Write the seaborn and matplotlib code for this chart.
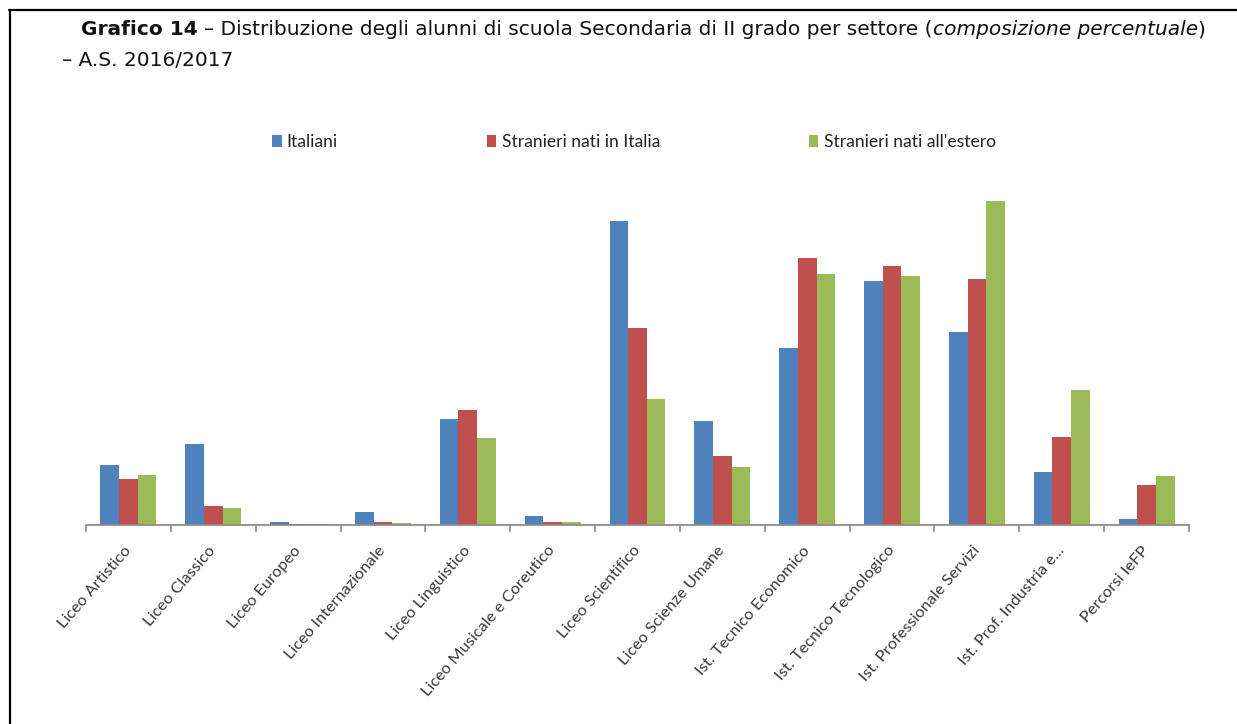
import matplotlib
matplotlib.use("Agg")
import matplotlib.pyplot as plt
from matplotlib.patches import Patch
from matplotlib.lines import Line2D
import numpy as np
import pandas as pd
import seaborn as sns

categories = ["Liceo Artistico", "Liceo Classico", "Liceo Europeo", "Liceo Internazionale",
              "Liceo Linguistico", "Liceo Musicale e Coreutico", "Liceo Scientifico",
              "Liceo Scienze Umane", "Ist. Tecnico Economico", "Ist. Tecnico Tecnologico",
              "Ist. Professionale Servizi", "Ist. Prof. Industria e...", "Percorsi IeFP"]
italiani = [4.45, 6.0, 0.15, 0.9, 7.85, 0.6, 22.55, 7.65, 13.1, 18.1, 14.3, 3.9, 0.4]
stranieri_nati_italia = [3.4, 1.35, 0.04, 0.2, 8.5, 0.2, 14.6, 5.1, 19.8, 19.2, 18.2, 6.5, 2.9]
stranieri_nati_estero = [3.7, 1.25, 0.04, 0.1, 6.45, 0.2, 9.3, 4.3, 18.6, 18.4, 24.0, 10.0, 3.6]
series_names = ["Italiani", "Stranieri nati in Italia", "Stranieri nati all'estero"]
colors = ["#4F81BD", "#C0504D", "#9BBB59"]

df = pd.DataFrame({"settore": categories,
                   series_names[0]: italiani,
                   series_names[1]: stranieri_nati_italia,
                   series_names[2]: stranieri_nati_estero})
long = df.melt(id_vars="settore", var_name="serie", value_name="valore")

sns.set_theme(style="white")
plt.rcParams["font.family"] = ["Lato", "DejaVu Sans"]

W, H = 1237, 724
fig = plt.figure(figsize=(W / 100, H / 100), dpi=100)
ax = fig.add_axes([86 / W, 1 - 524.5 / H, (1189 - 86) / W, (524.5 - 180) / H])
sns.barplot(data=long, x="settore", y="valore", hue="serie", order=categories,
            hue_order=series_names, palette=colors, width=0.66, saturation=1,
            ax=ax, legend=False, edgecolor="none", linewidth=0)
ax.set_ylim(0, 344.5 / 13.48)
ax.set_xlim(-0.5, len(categories) - 0.5)
for s in ["top", "right", "left"]:
    ax.spines[s].set_visible(False)
ax.spines["bottom"].set_color("#8c8c8c")
ax.spines["bottom"].set_linewidth(1.3)
ax.set_yticks([])
ax.set_xlabel("")
ax.set_ylabel("")
ax.set_xticks(np.arange(len(categories)))
ax.set_xticklabels(categories, rotation=49, ha="right", va="center",
                   rotation_mode="anchor", fontsize=11.8, color="#3a3a3a")
ax.tick_params(axis="x", which="major", length=0, pad=17)
ax.set_xticks(np.arange(-0.5, len(categories)), minor=True)
ax.tick_params(axis="x", which="minor", length=5, width=1.2, color="#8c8c8c", bottom=True)

handles = [Patch(facecolor=c, edgecolor="none") for c in colors]
fig.legend(handles, series_names, loc="center left", bbox_to_anchor=(272 / W, 1 - 142 / H),
           ncol=3, frameon=False, handlelength=0.55, handleheight=0.65, handletextpad=0.3,
           columnspacing=8.5, borderpad=0, borderaxespad=0, fontsize=12.6,
           labelcolor="#222222")

# border
fig.add_artist(Line2D([9 / W, 1], [1 - 9.5 / H, 1 - 9.5 / H], transform=fig.transFigure,
                      color="black", lw=1.6))
fig.add_artist(Line2D([9.5 / W, 9.5 / W], [0, 1 - 9.5 / H], transform=fig.transFigure,
                      color="black", lw=1.6))

# title (pieces with mixed styles, fitted to the reference width)
r = fig.canvas.get_renderer()
tfont = ["DejaVu Sans"]
pieces = [("Grafico 14", dict(weight="bold")),
          (" – Distribuzione degli alunni di scuola Secondaria di II grado per settore (", {}),
          ("composizione percentuale", dict(style="italic")),
          (")", {})]

def space_w(size):
    a = fig.text(0, 0, "aa", family=tfont, fontsize=size)
    b = fig.text(0, 0, "a a", family=tfont, fontsize=size)
    w = b.get_window_extent(renderer=r).width - a.get_window_extent(renderer=r).width
    a.remove(); b.remove()
    return w

def draw_title(size, x0, y):
    arts = []
    x = x0
    for txt, kw in pieces:
        lead = len(txt) - len(txt.lstrip(" "))
        x += lead * space_w(size)
        t = fig.text(x / W, 1 - y / H, txt.lstrip(" "), family=tfont, fontsize=size,
                     va="baseline", ha="left", color="#111111", **kw)
        arts.append(t)
        x = t.get_window_extent(renderer=r).x1
    return x, arts

base = 14.0
xend, arts = draw_title(base, 81, 35)
for a in arts:
    a.remove()
size = base * (1210 - 81) / (xend - 81)
draw_title(size, 81, 35)
fig.text(62 / W, 1 - 66 / H, "– A.S. 2016/2017", family=tfont, fontsize=size,
         va="baseline", ha="left", color="#111111")

fig.savefig("out.png", dpi=100)
